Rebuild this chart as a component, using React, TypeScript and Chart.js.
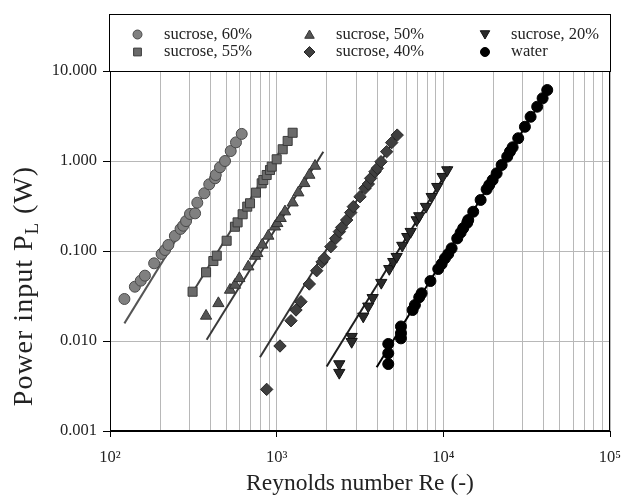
import React, { useEffect, useRef } from 'react';
import { Chart, registerables } from 'chart.js';

Chart.register(...registerables);

// ---------- data ----------
const re60 = [122, 141, 153, 162, 184, 204, 214, 224, 245, 265, 275, 286, 302, 324, 334, 368, 394, 427, 431, 457, 490, 530, 570, 617];
const p60 = [0.0293, 0.0401, 0.0468, 0.0532, 0.073, 0.0927, 0.1026, 0.1167, 0.147, 0.176, 0.191, 0.215, 0.258, 0.262, 0.344, 0.438, 0.551, 0.643, 0.699, 0.851, 1.0, 1.29, 1.61, 2.0];

const re55 = [313, 377, 417, 437, 501, 562, 583, 625, 666, 692, 751, 813, 832, 871, 912, 934, 1000, 1087, 1164, 1247];
const p55 = [0.0353, 0.058, 0.0774, 0.0887, 0.13, 0.186, 0.208, 0.256, 0.311, 0.339, 0.445, 0.565, 0.615, 0.699, 0.794, 0.865, 1.045, 1.35, 1.67, 2.06];

const re50 = [377, 447, 525, 562, 597, 676, 741, 765, 820, 891, 977, 1009, 1057, 1122, 1247, 1349, 1466, 1571, 1700];
const p50 = [0.019, 0.0262, 0.0369, 0.0419, 0.0497, 0.067, 0.088, 0.0942, 0.117, 0.147, 0.186, 0.203, 0.231, 0.274, 0.344, 0.445, 0.565, 0.699, 0.88];

const re40 = [871, 1047, 1219, 1306, 1399, 1570, 1738, 1871, 1930, 2113, 2261, 2377, 2455, 2630, 2780, 2884, 3162, 3388, 3548, 3664, 3890, 4016, 4227, 4571, 4898, 5287];
const p40 = [0.0029, 0.0088, 0.0168, 0.0221, 0.0273, 0.043, 0.0604, 0.0755, 0.083, 0.1117, 0.138, 0.164, 0.183, 0.221, 0.267, 0.311, 0.401, 0.497, 0.555, 0.642, 0.761, 0.83, 0.982, 1.27, 1.6, 1.94];

const re20 = [2375, 2375, 2818, 2818, 3307, 3544, 3767, 4242, 4738, 5006, 5248, 5670, 6074, 6368, 6918, 7170, 7863, 8511, 9192, 9904, 10555];
const p20 = [0.00555, 0.00445, 0.01117, 0.00982, 0.0188, 0.0243, 0.0302, 0.0445, 0.0634, 0.076, 0.0865, 0.115, 0.144, 0.164, 0.221, 0.245, 0.311, 0.401, 0.518, 0.669, 0.794];

const reW = [4673, 4673, 4673, 5568, 5568, 5568, 6543, 6753, 7168, 7410, 8368, 9320, 9768, 10224, 10700, 11215, 12117, 12700, 13164, 13912, 14106, 15113, 16742, 18190, 18856, 19762, 20884, 22380, 24170, 25096, 26050, 28143, 30866, 33387, 36577, 39410, 42013];
const pW = [0.00555, 0.0073, 0.00927, 0.0107, 0.0122, 0.0145, 0.0221, 0.0251, 0.0306, 0.0339, 0.0464, 0.0631, 0.0717, 0.083, 0.0927, 0.107, 0.138, 0.16, 0.179, 0.206, 0.221, 0.273, 0.369, 0.485, 0.541, 0.615, 0.73, 0.903, 1.117, 1.27, 1.42, 1.79, 2.4, 3.1, 4.01, 4.98, 6.15];

// fitted power-law lines (start/end)
const fit60Re = [122, 600];
const fit60P = [0.0157, 1.88];
const fit55Re = [313, 1150];
const fit55P = [0.0346, 1.71];
const fit50Re = [380, 1905];
const fit50P = [0.0103, 1.27];
const fit40Re = [794, 5200];
const fit40P = [0.0066, 1.85];
const fit20Re = [1995, 11000];
const fit20P = [0.0052, 0.87];
const fitWRe = [3981, 42000];
const fitWP = [0.0051, 6.0];

const seriesLabels = ['sucrose, 60%', 'sucrose, 55%', 'sucrose, 50%', 'sucrose, 40%', 'sucrose, 20%', 'water'];
const xTickValues = [100, 1000, 10000, 100000];
const xTickLabels = ['10\u00B2', '10\u00B3', '10\u2074', '10\u2075'];
const yTickValues = [0.001, 0.01, 0.1, 1, 10];
const yTickLabels = ['0.001', '0.010', '0.100', '1.000', '10.000'];

const xTitle = 'Reynolds number Re (-)';
const yTitleMain = 'Power input P';
const yTitleSub = 'L';
const yTitleEnd = ' (W)';

// ---------- styles ----------
const FONT = '"Liberation Serif", "Times New Roman", serif';
const TEXT = '#222222';
const GRID = '#b8b8b8';

type Sty = { style: string; rotation: number; radius: number; fill: string; border: string; line: string; legendR: number };
const styles: Sty[] = [
  { style: 'circle', rotation: 0, radius: 5.5, fill: '#808080', border: '#4a4a4a', line: '#555555', legendR: 4.5 },
  { style: 'rect', rotation: 0, radius: 6.4, fill: '#6a6a6a', border: '#3a3a3a', line: '#444444', legendR: 5.5 },
  { style: 'triangle', rotation: 0, radius: 6.5, fill: '#555555', border: '#333333', line: '#3a3a3a', legendR: 5.5 },
  { style: 'rectRot', rotation: 0, radius: 6.2, fill: '#3f3f3f', border: '#262626', line: '#333333', legendR: 5.5 },
  { style: 'triangle', rotation: 180, radius: 6.5, fill: '#2a2a2a', border: '#111111', line: '#1e1e1e', legendR: 5.5 },
  { style: 'circle', rotation: 0, radius: 5.5, fill: '#000000', border: '#000000', line: '#000000', legendR: 4.5 },
];

const pts = (xs: number[], ys: number[]) => xs.map((x, i) => ({ x, y: ys[i] }));

function drawMarker(ctx: CanvasRenderingContext2D, s: Sty, x: number, y: number, r: number) {
  ctx.beginPath();
  if (s.style === 'circle') {
    ctx.arc(x, y, r, 0, Math.PI * 2);
  } else if (s.style === 'rect') {
    const h = r * Math.SQRT1_2;
    ctx.rect(x - h, y - h, 2 * h, 2 * h);
  } else if (s.style === 'rectRot') {
    ctx.moveTo(x - r, y);
    ctx.lineTo(x, y - r);
    ctx.lineTo(x + r, y);
    ctx.lineTo(x, y + r);
    ctx.closePath();
  } else {
    let a = s.rotation * Math.PI / 180;
    for (let k = 0; k < 3; k++) {
      const px = x + Math.sin(a) * r;
      const py = y - Math.cos(a) * r;
      if (k === 0) ctx.moveTo(px, py); else ctx.lineTo(px, py);
      a += (2 * Math.PI) / 3;
    }
    ctx.closePath();
  }
  ctx.fillStyle = s.fill;
  ctx.strokeStyle = s.border;
  ctx.lineWidth = 1;
  ctx.fill();
  ctx.stroke();
}

const decorPlugin = {
  id: 'decor',
  afterDraw(chart: any) {
    const ctx: CanvasRenderingContext2D = chart.ctx;
    const a = chart.chartArea;
    ctx.save();
    // frame of plot
    ctx.strokeStyle = '#000';
    ctx.lineWidth = 1;
    const L = Math.round(a.left) + 0.5;
    const R = Math.round(a.right) - 0.5;
    const T = Math.round(a.top) + 0.5;
    const B = Math.round(a.bottom) - 0.5;
    ctx.strokeRect(L, T, R - L, B - T);
    // legend box
    const lbTop = 14.5;
    ctx.strokeRect(L - 1, lbTop, R - L + 2, T - lbTop);

    // legend items (3 columns x 2 rows)
    const colMarker = [137.5, 309.5, 485];
    const colText = [164, 336, 511];
    const rowY = [34.5, 52];
    ctx.font = `16.5px ${FONT}`;
    ctx.textBaseline = 'middle';
    ctx.textAlign = 'left';
    for (let i = 0; i < seriesLabels.length; i++) {
      const col = Math.floor(i / 2);
      const row = i % 2;
      const s = styles[i];
      drawMarker(ctx, s, colMarker[col], rowY[row] - (s.style === 'triangle' ? (s.rotation === 180 ? 1 : -1) : 0), s.legendR);
      ctx.fillStyle = TEXT;
      ctx.fillText(seriesLabels[i], colText[col], rowY[row]);
    }

    // x title
    ctx.font = `23.5px ${FONT}`;
    ctx.textAlign = 'center';
    ctx.textBaseline = 'alphabetic';
    ctx.fillStyle = TEXT;
    ctx.fillText(xTitle, (a.left + a.right) / 2, 490);

    // y title with subscript
    ctx.save();
    ctx.translate(32, 286);
    ctx.rotate(-Math.PI / 2);
    ctx.textAlign = 'left';
    try { (ctx as any).letterSpacing = '1px'; } catch (e) { /* ignore */ }
    const big = `28px ${FONT}`;
    const small = `19px ${FONT}`;
    ctx.font = big;
    const w1 = ctx.measureText(yTitleMain).width;
    const w3 = ctx.measureText(yTitleEnd).width;
    ctx.font = small;
    const w2 = ctx.measureText(yTitleSub).width;
    const x0 = -(w1 + w2 + w3) / 2;
    ctx.font = big;
    ctx.fillText(yTitleMain, x0, 0);
    ctx.font = small;
    ctx.fillText(yTitleSub, x0 + w1, 6);
    ctx.font = big;
    ctx.fillText(yTitleEnd, x0 + w1 + w2, 0);
    ctx.restore();

    ctx.restore();
  },
};

const isDecade = (v: number) => {
  const l = Math.log10(v);
  return Math.abs(l - Math.round(l)) < 1e-6;
};

export default function App() {
  const ref = useRef<HTMLCanvasElement | null>(null);

  useEffect(() => {
    document.body.style.margin = '0';
    const canvas = ref.current;
    if (!canvas) return;

    const scatterData = [pts(re60, p60), pts(re55, p55), pts(re50, p50), pts(re40, p40), pts(re20, p20), pts(reW, pW)];
    const fitData = [
      pts(fit60Re, fit60P), pts(fit55Re, fit55P), pts(fit50Re, fit50P),
      pts(fit40Re, fit40P), pts(fit20Re, fit20P), pts(fitWRe, fitWP),
    ];

    const datasets: any[] = [];
    scatterData.forEach((d, i) => {
      const s = styles[i];
      datasets.push({
        label: seriesLabels[i],
        data: d,
        pointStyle: s.style,
        rotation: s.rotation,
        pointRadius: s.radius,
        pointBackgroundColor: s.fill,
        pointBorderColor: s.border,
        pointBorderWidth: 1,
        showLine: false,
        order: 1,
      });
    });
    fitData.forEach((d, i) => {
      const s = styles[i];
      datasets.push({
        label: seriesLabels[i] + ' fit',
        data: d,
        showLine: true,
        borderColor: s.line,
        borderWidth: 2,
        pointRadius: 0,
        fill: false,
        order: 2,
      });
    });

    const chart = new Chart(canvas, {
      type: 'scatter',
      data: { datasets },
      options: {
        animation: false,
        responsive: false,
        devicePixelRatio: 1,
        layout: { padding: { top: 71, right: 14, left: 0, bottom: 0 } },
        plugins: {
          legend: { display: false },
          tooltip: { enabled: false },
        },
        scales: {
          x: {
            type: 'logarithmic',
            min: 100,
            max: 100000,
            afterBuildTicks: (scale: any) => {
              const t: any[] = [];
              for (let e = 2; e < 5; e++) {
                for (let m = 1; m < 10; m++) t.push({ value: m * Math.pow(10, e) });
              }
              t.push({ value: 100000 });
              scale.ticks = t;
            },
            afterFit: (scale: any) => {
              scale.height = 65;
              scale.paddingLeft = 0;
              scale.paddingRight = 0;
            },
            ticks: {
              autoSkip: false,
              maxRotation: 0,
              minRotation: 0,
              padding: 11,
              color: TEXT,
              font: { family: FONT, size: 16.5 },
              callback: (value: any) => {
                const v = Number(value);
                const idx = xTickValues.findIndex((t) => Math.abs(t - v) / t < 1e-6);
                return idx >= 0 ? xTickLabels[idx] : '';
              },
            },
            grid: {
              color: GRID,
              lineWidth: 1,
              tickLength: 6,
              tickColor: (c: any) => (c.tick && isDecade(c.tick.value) ? '#000' : 'rgba(0,0,0,0)'),
            },
            border: { display: true, color: '#000', width: 1 },
          },
          y: {
            type: 'logarithmic',
            min: 0.001,
            max: 10,
            afterBuildTicks: (scale: any) => {
              scale.ticks = yTickValues.map((v) => ({ value: v }));
            },
            afterFit: (scale: any) => {
              scale.width = 110;
              scale.paddingTop = 0;
              scale.paddingBottom = 0;
            },
            ticks: {
              autoSkip: false,
              padding: 6,
              color: TEXT,
              font: { family: FONT, size: 16.5 },
              callback: (value: any) => {
                const v = Number(value);
                const idx = yTickValues.findIndex((t) => Math.abs(t - v) / t < 1e-6);
                return idx >= 0 ? yTickLabels[idx] : '';
              },
            },
            grid: {
              color: GRID,
              lineWidth: 1,
              tickLength: 7,
              tickColor: '#000',
            },
            border: { display: true, color: '#000', width: 1 },
          },
        },
      },
      plugins: [decorPlugin],
    } as any);

    return () => {
      chart.destroy();
    };
  }, []);

  return (
    <div style={{ position: 'fixed', left: 0, top: 0, width: 624, height: 496, background: '#fff' }}>
      <canvas ref={ref} width={624} height={496} style={{ display: 'block', width: 624, height: 496 }} />
    </div>
  );
}
